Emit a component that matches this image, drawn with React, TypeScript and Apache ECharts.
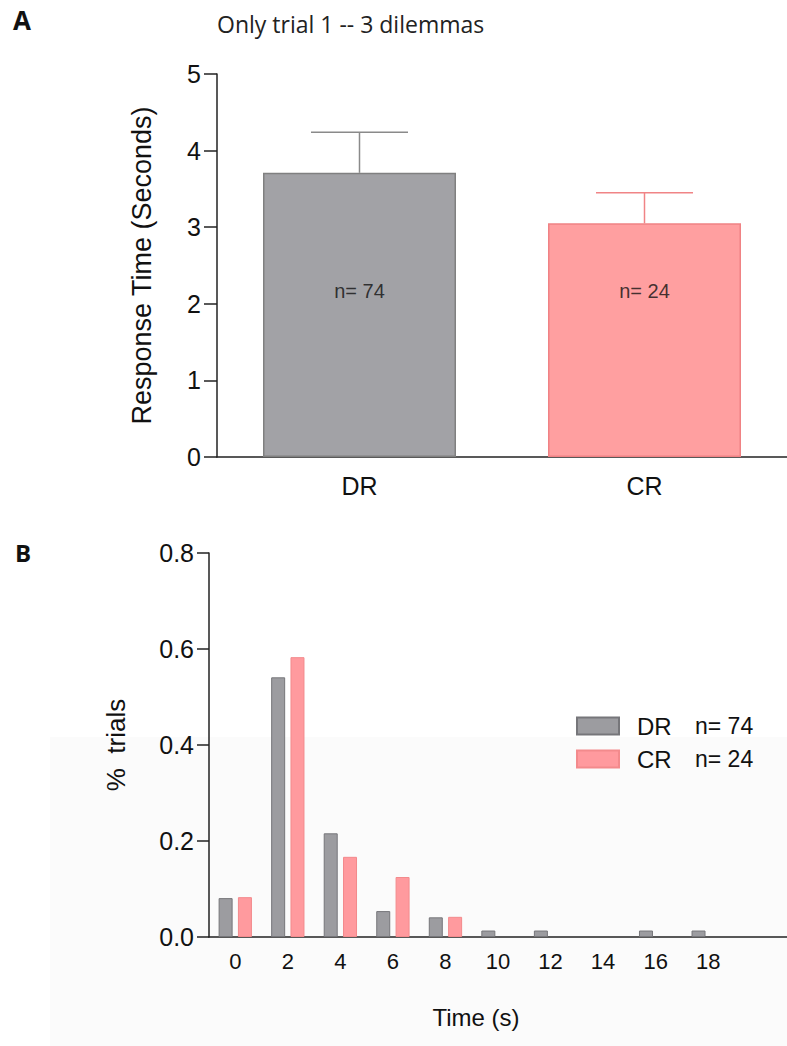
import React, { useEffect, useRef } from "react";
import * as echarts from "echarts";

// Panel A: mean response time per group (with error bars)
const groups = ["DR", "CR"];
const meanRT = [3.71, 3.05];
const errRT = [0.53, 0.4];
const groupN = [74, 24];
const nLabelLevel = 2.17;

// Panel B: distribution of response times (share of trials per 2-s bin)
const timeBins = ["0", "2", "4", "6", "8", "10", "12", "14", "16", "18", ""];
const drShare = [0.081, 0.541, 0.216, 0.054, 0.041, 0.0135, 0.0135, 0, 0.0135, 0.0135, 0];
const crShare = [0.083, 0.583, 0.167, 0.125, 0.042, 0, 0, 0, 0, 0, 0];

const FONT = "Liberation Sans, Arial, sans-serif";
const AXIS = "#222";

const barFill = ["#a2a2a6", "#ff9fa0"];
const barEdge = ["#808080", "#f08284"];
const errColor = ["#8a8a8a", "#f08486"];

// empty bins are left out rather than drawn as zero-height bars
const asBars = (vals: number[]) => vals.map((v) => (v === 0 ? null : v));

export default function App() {
  const ref = useRef<HTMLDivElement>(null);

  useEffect(() => {
    if (!ref.current) return;
    const chart = echarts.init(ref.current, null, { renderer: "svg" });

    const option: any = {
      animation: false,
      backgroundColor: "#fff",
      title: [
        {
          text: "Only trial 1 -- 3 dilemmas",
          left: 212,
          top: 7,
          textStyle: { fontFamily: "Open Sans", fontSize: 23, fontWeight: "normal", color: "#222" },
        },
        {
          text: "A",
          left: 8,
          top: 2,
          textStyle: { fontFamily: "Open Sans", fontSize: 26, fontWeight: "bold", color: "#111" },
        },
        {
          text: "B",
          left: 10,
          top: 535,
          textStyle: { fontFamily: "Open Sans", fontSize: 24, fontWeight: "bold", color: "#111" },
        },
      ],
      graphic: [
        { type: "rect", z: -10, shape: { x: 50, y: 737, width: 737, height: 309 }, style: { fill: "#fbfbfb" } },
      ],
      legend: {
        orient: "vertical",
        left: 571,
        top: 709,
        itemWidth: 42,
        itemHeight: 17,
        itemGap: 9,
        data: ["DR", "CR"],
        icon: "rect",
        formatter: (name: string) => `{a|${name}}{b|n= ${groupN[groups.indexOf(name)]}}`,
        textStyle: {
          rich: {
            a: { fontFamily: FONT, fontSize: 24, color: "#111", width: 58, padding: [0, 0, 0, 13], lineHeight: 26 },
            b: { fontFamily: FONT, fontSize: 23, color: "#111", lineHeight: 26 },
          },
        },
      },
      grid: [
        { left: 217, top: 74, width: 578, height: 383 },
        { left: 209, top: 553, width: 578, height: 384 },
      ],
      xAxis: [
        {
          type: "category",
          gridIndex: 0,
          data: groups,
          axisLine: { lineStyle: { color: AXIS, width: 1.5 } },
          axisTick: { alignWithLabel: true, length: 10, lineStyle: { color: AXIS, width: 1.5 } },
          axisLabel: { fontFamily: FONT, fontSize: 25, color: "#111", margin: 16 },
        },
        {
          type: "category",
          gridIndex: 1,
          data: timeBins,
          name: "Time (s)",
          nameLocation: "middle",
          nameGap: 68,
          nameTextStyle: { fontFamily: FONT, fontSize: 24, color: "#111", padding: [0, 44, 0, 0] },
          axisLine: { lineStyle: { color: AXIS, width: 1.5 } },
          axisTick: { alignWithLabel: true, interval: 0, length: 11, lineStyle: { color: AXIS, width: 1.5 } },
          axisLabel: { interval: 0, fontFamily: FONT, fontSize: 22, color: "#111", margin: 13 },
        },
      ],
      yAxis: [
        {
          type: "value",
          gridIndex: 0,
          min: 0,
          max: 5,
          interval: 1,
          name: "Response Time (Seconds)",
          nameLocation: "middle",
          nameGap: 62,
          nameTextStyle: { fontFamily: FONT, fontSize: 27, color: "#111" },
          splitLine: { show: false },
          axisLine: { show: true, lineStyle: { color: AXIS, width: 1.5 } },
          axisTick: { show: true, length: 13, lineStyle: { color: AXIS, width: 1.5 } },
          axisLabel: { fontFamily: FONT, fontSize: 25, color: "#111", margin: 16 },
        },
        {
          type: "value",
          gridIndex: 1,
          min: 0,
          max: 0.8,
          interval: 0.2,
          name: "%  trials",
          nameLocation: "middle",
          nameGap: 80,
          nameTextStyle: { fontFamily: FONT, fontSize: 26, color: "#111" },
          splitLine: { show: false },
          axisLine: { show: true, lineStyle: { color: AXIS, width: 1.5 } },
          axisTick: { show: true, length: 12, lineStyle: { color: AXIS, width: 1.5 } },
          axisLabel: { fontFamily: FONT, fontSize: 25, color: "#111", margin: 15, formatter: (v: number) => v.toFixed(1) },
        },
      ],
      series: [
        {
          name: "Mean",
          type: "bar",
          xAxisIndex: 0,
          yAxisIndex: 0,
          barWidth: 193,
          data: meanRT.map((v, i) => ({
            value: v,
            itemStyle: { color: barFill[i], borderColor: barEdge[i], borderWidth: 1.5 },
          })),
        },
        {
          name: "Error",
          type: "custom",
          xAxisIndex: 0,
          yAxisIndex: 0,
          encode: { x: 0, y: 1 },
          data: meanRT.map((v, i) => [i, v, errRT[i]]),
          renderItem: (params: any, api: any) => {
            const i = api.value(0);
            const mean = api.value(1);
            const err = api.value(2);
            const base = api.coord([i, mean]);
            const top = api.coord([i, mean + err]);
            const half = 48.5;
            const style = { stroke: errColor[params.dataIndex], lineWidth: 1.5 };
            return {
              type: "group",
              children: [
                { type: "line", shape: { x1: base[0], y1: base[1], x2: top[0], y2: top[1] }, style },
                { type: "line", shape: { x1: top[0] - half, y1: top[1], x2: top[0] + half, y2: top[1] }, style },
              ],
            };
          },
        },
        {
          name: "n",
          type: "scatter",
          xAxisIndex: 0,
          yAxisIndex: 0,
          symbolSize: 0,
          data: groups.map((_, i) => [i, nLabelLevel]),
          label: {
            show: true,
            position: "inside",
            fontFamily: FONT,
            fontSize: 20,
            color: "#111",
            formatter: (p: any) => `n= ${groupN[p.dataIndex]}`,
          },
        },
        {
          name: "DR",
          type: "bar",
          xAxisIndex: 1,
          yAxisIndex: 1,
          barWidth: 14,
          barGap: "38%",
          itemStyle: { color: "#9c9ca0", borderColor: "#76767a", borderWidth: 1 },
          data: asBars(drShare),
        },
        {
          name: "CR",
          type: "bar",
          xAxisIndex: 1,
          yAxisIndex: 1,
          barWidth: 14,
          barGap: "38%",
          itemStyle: { color: "#ff9a9e", borderColor: "#f38a8c", borderWidth: 1 },
          data: asBars(crShare),
        },
      ],
    };

    chart.setOption(option);
    return () => chart.dispose();
  }, []);

  return (
    <div style={{ position: "absolute", left: 0, top: 0, width: 787, height: 1046, overflow: "hidden" }}>
      <div ref={ref} style={{ width: 787, height: 1046 }} />
    </div>
  );
}
